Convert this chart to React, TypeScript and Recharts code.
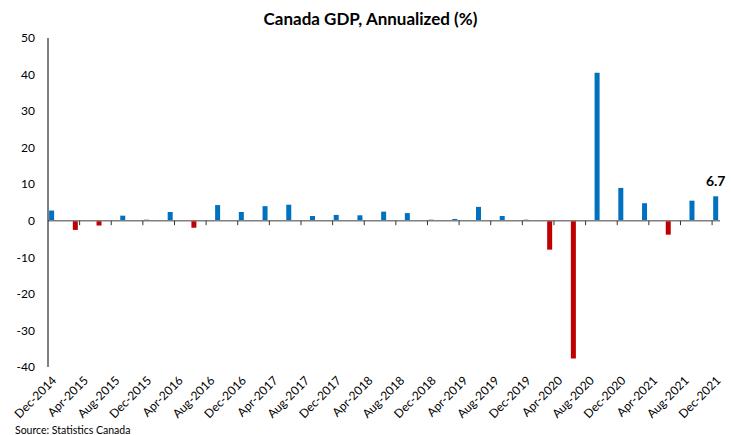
import React from 'react';
import {
  ComposedChart,
  Bar,
  XAxis,
  YAxis,
  Cell,
  ReferenceLine,
  LabelList,
} from 'recharts';

// quarterly annualized GDP growth, Dec-2014 .. Dec-2021
const quarters = [
  'Dec-2014', 'Mar-2015', 'Jun-2015', 'Sep-2015', 'Dec-2015',
  'Mar-2016', 'Jun-2016', 'Sep-2016', 'Dec-2016',
  'Mar-2017', 'Jun-2017', 'Sep-2017', 'Dec-2017',
  'Mar-2018', 'Jun-2018', 'Sep-2018', 'Dec-2018',
  'Mar-2019', 'Jun-2019', 'Sep-2019', 'Dec-2019',
  'Mar-2020', 'Jun-2020', 'Sep-2020', 'Dec-2020',
  'Mar-2021', 'Jun-2021', 'Sep-2021', 'Dec-2021',
];
const gdpGrowth = [
  2.8, -2.5, -1.3, 1.4, 0.3,
  2.4, -1.9, 4.3, 2.4,
  4.0, 4.4, 1.3, 1.6,
  1.5, 2.5, 2.1, 0.3,
  0.5, 3.8, 1.3, 0.3,
  -7.9, -37.7, 40.5, 9.0,
  4.8, -3.8, 5.5, 6.7,
];

// axis labels every 4 months
const tickLabels = [
  'Dec-2014', 'Apr-2015', 'Aug-2015', 'Dec-2015', 'Apr-2016', 'Aug-2016',
  'Dec-2016', 'Apr-2017', 'Aug-2017', 'Dec-2017', 'Apr-2018', 'Aug-2018',
  'Dec-2018', 'Apr-2019', 'Aug-2019', 'Dec-2019', 'Apr-2020', 'Aug-2020',
  'Dec-2020', 'Apr-2021', 'Aug-2021', 'Dec-2021',
];
const yTicks = [-40, -30, -20, -10, 0, 10, 20, 30, 40, 50];

const FONT = 'Lato, "Open Sans", sans-serif';
const BLUE = '#0070C0';
const RED = '#C00000';

// month index since Dec-2014, bars sit in the middle of their month
const data = quarters.map((q, i) => ({
  quarter: q,
  month: i * 3 + 0.5,
  value: gdpGrowth[i],
}));
const tickMonths = tickLabels.map((_, i) => i * 4);

const MonthTick = (props: any) => {
  const { x, y, payload } = props;
  const label = tickLabels[Math.round(payload.value / 4)];
  return (
    <g transform={`translate(${x + 5},${y + 2})`}>
      <text
        x={0}
        y={0}
        dy={6}
        textAnchor="end"
        transform="rotate(-45)"
        fontSize={12}
        fontFamily={FONT}
        fill="#000"
      >
        {label}
      </text>
    </g>
  );
};

const LastLabel = (props: any) => {
  const { x, y, width, index, value } = props;
  if (index !== data.length - 1) return null;
  return (
    <text
      x={x + width / 2}
      y={y - 10}
      textAnchor="middle"
      fontSize={14}
      fontWeight="bold"
      fontFamily={FONT}
      fill="#000"
    >
      {value}
    </text>
  );
};

const App: React.FC = () => {
  return (
    <div
      style={{
        position: 'absolute',
        left: 0,
        top: 0,
        width: 731,
        height: 435,
        background: '#fff',
        fontFamily: FONT,
      }}
    >
      <div
        style={{
          position: 'absolute',
          top: 8,
          left: 5,
          width: 731,
          textAlign: 'center',
          fontSize: 17,
          fontWeight: 'bold',
          color: '#000',
        }}
      >
        Canada GDP, Annualized (%)
      </div>
      <ComposedChart
        width={731}
        height={435}
        data={data}
        margin={{ top: 38, right: 11, left: 0, bottom: 0 }}
      >
        <XAxis
          type="number"
          dataKey="month"
          domain={[0, 85]}
          ticks={tickMonths}
          interval={0}
          axisLine={false}
          tickLine={false}
          tick={<MonthTick />}
          height={68}
        />
        <YAxis
          domain={[-40, 50]}
          ticks={yTicks}
          interval={0}
          width={48}
          axisLine={{ stroke: '#000', strokeWidth: 1 }}
          tickLine={false}
          tickMargin={7}
          tick={{ fontSize: 12, fill: '#000', fontFamily: FONT }}
        />
        <Bar dataKey="value" barSize={5} isAnimationActive={false}>
          {data.map((d, i) => (
            <Cell key={i} fill={d.value < 0 ? RED : BLUE} />
          ))}
          <LabelList dataKey="value" content={<LastLabel />} />
        </Bar>
        <ReferenceLine y={0} stroke="#808080" strokeWidth={1.5} />
        {tickMonths.slice(1).map((m) => (
          <ReferenceLine
            key={m}
            segment={[
              { x: m, y: 0 },
              { x: m, y: -1.2 },
            ]}
            stroke="#333"
          />
        ))}
      </ComposedChart>
      <div
        style={{
          position: 'absolute',
          left: 15,
          top: 426,
          fontSize: 10.5,
          lineHeight: '8px',
          color: '#000',
        }}
      >
        Source: Statistics Canada
      </div>
    </div>
  );
};

export default App;
